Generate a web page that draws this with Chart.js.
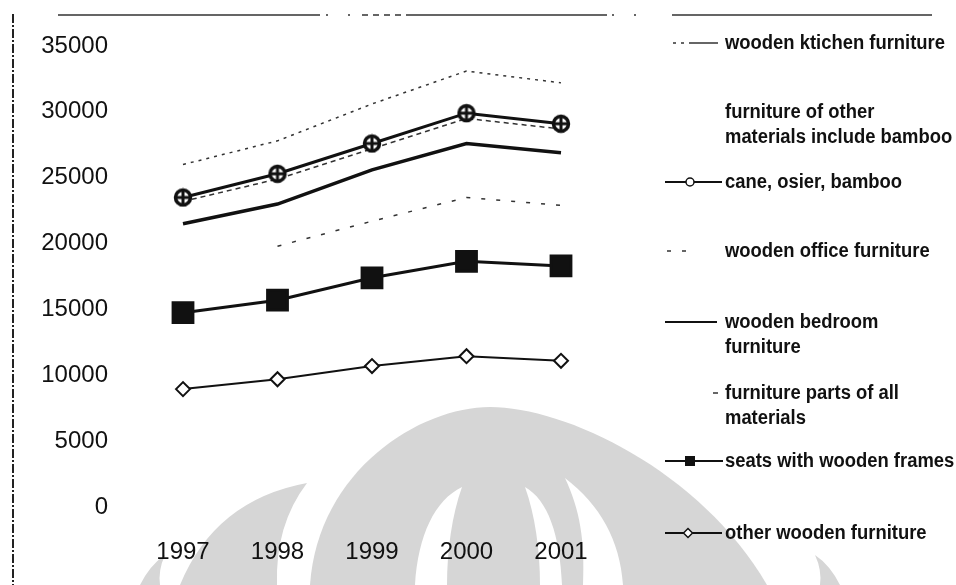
<!DOCTYPE html>
<html>
<head>
<meta charset="utf-8">
<script src="https://cdn.jsdelivr.net/npm/chart.js@4/dist/chart.umd.min.js"></script>
<style>
  html, body { margin: 0; padding: 0; background: #fff; }
  canvas { display: block; }
</style>
</head>
<body>
<canvas id="chart" width="956" height="585"></canvas>
<script>
// Categories and series values
const years = ['1997', '1998', '1999', '2000', '2001'];
const woodenKitchen   = [26000, 27800, 30600, 33100, 32200];
const otherMaterials  = [null, null, null, null, null];
const caneOsierBamboo = [23500, 25300, 27600, 29900, 29100];
const woodenOffice    = [null, 19800, 21700, 23500, 22900];
const woodenBedroom   = [21500, 23000, 25600, 27600, 26900];
const furnitureParts  = [23200, 24900, 27200, 29500, 28700];
const seatsWooden     = [14750, 15700, 17400, 18650, 18300];
const otherWooden     = [8950, 9700, 10700, 11450, 11100];

// Value axis
const yMin = 0, yMax = 35000, yStep = 5000;

// Series names, split into the lines shown in the key
const seriesNames = [
  ['wooden ktichen furniture'],
  ['furniture of other', 'materials include bamboo'],
  ['cane, osier, bamboo'],
  ['wooden office furniture'],
  ['wooden bedroom', 'furniture'],
  ['furniture parts of all', 'materials'],
  ['seats with wooden frames'],
  ['other wooden furniture']
];

const INK = '#111';

// circle-with-cross marker
const crossCircle = document.createElement('canvas');
crossCircle.width = 20; crossCircle.height = 20;
(function () {
  const g = crossCircle.getContext('2d');
  g.beginPath(); g.arc(10, 10, 7.5, 0, Math.PI * 2);
  g.fillStyle = '#fff'; g.fill();
  g.lineWidth = 3.5; g.strokeStyle = INK; g.stroke();
  g.beginPath();
  g.moveTo(10, 2); g.lineTo(10, 18);
  g.moveTo(2, 10); g.lineTo(18, 10);
  g.lineWidth = 3; g.stroke();
})();

// key layout: text rows and symbol extents
const keyLayout = [
  { y: 43,  x0: 673, x1: 718, solidFrom: 692 },
  { y: 112, x0: 0,   x1: 0 },
  { y: 182, x0: 665, x1: 722, px: 690 },
  { y: 251, x0: 667, x1: 697 },
  { y: 322, x0: 665, x1: 717 },
  { y: 393, x0: 713, x1: 718 },
  { y: 461, x0: 665, x1: 723, px: 690 },
  { y: 533, x0: 665, x1: 722, px: 688 }
];
const keyPointSize = [0, 0, 4, 0, 0, 0, 6, 4.5];
const KEY_FONT = "bold 20px 'Liberation Sans Narrow', 'Liberation Sans', sans-serif";
const KEY_TEXT_X = 725;
const KEY_WIDE_TEXT = 220; // drawn width of the first entry

const backdropPlugin = {
  id: 'backdrop',
  beforeDraw(chart) {
    const ctx = chart.ctx;
    ctx.save();
    ctx.fillStyle = '#fff';
    ctx.fillRect(0, 0, chart.width, chart.height);

    // faint emblem in the background
    ctx.fillStyle = '#d6d6d6';
    // dome
    ctx.beginPath();
    ctx.moveTo(310, 585);
    ctx.bezierCurveTo(318, 470, 420, 407, 490, 407);
    ctx.bezierCurveTo(565, 407, 700, 470, 767, 585);
    ctx.closePath();
    ctx.fill();
    // left leaf
    ctx.beginPath();
    ctx.moveTo(180, 585);
    ctx.quadraticCurveTo(215, 500, 307, 483);
    ctx.quadraticCurveTo(275, 525, 277, 585);
    ctx.closePath();
    ctx.fill();
    // outer slivers
    ctx.beginPath();
    ctx.moveTo(140, 585);
    ctx.quadraticCurveTo(150, 565, 165, 555);
    ctx.quadraticCurveTo(158, 570, 160, 585);
    ctx.closePath();
    ctx.fill();
    ctx.beginPath();
    ctx.moveTo(840, 585);
    ctx.quadraticCurveTo(830, 565, 815, 555);
    ctx.quadraticCurveTo(822, 570, 820, 585);
    ctx.closePath();
    ctx.fill();
    // white crescents
    ctx.fillStyle = '#fff';
    ctx.beginPath();
    ctx.moveTo(415, 585);
    ctx.bezierCurveTo(418, 535, 435, 500, 462, 487);
    ctx.bezierCurveTo(452, 515, 447, 550, 447, 585);
    ctx.closePath();
    ctx.fill();
    ctx.beginPath();
    ctx.moveTo(562, 585);
    ctx.bezierCurveTo(560, 535, 548, 500, 525, 487);
    ctx.bezierCurveTo(535, 515, 540, 550, 540, 585);
    ctx.closePath();
    ctx.fill();
    ctx.beginPath();
    ctx.moveTo(583, 585);
    ctx.bezierCurveTo(585, 540, 580, 510, 565, 478);
    ctx.bezierCurveTo(600, 505, 620, 540, 623, 585);
    ctx.closePath();
    ctx.fill();

    // page frame lines
    ctx.strokeStyle = '#333';
    ctx.lineWidth = 1.5;
    ctx.beginPath();
    [[58, 320], [410, 607], [672, 932]].forEach(([a, b]) => {
      ctx.moveTo(a, 15); ctx.lineTo(b, 15);
    });
    ctx.stroke();
    ctx.setLineDash([6, 5]);
    ctx.beginPath(); ctx.moveTo(362, 15); ctx.lineTo(410, 15); ctx.stroke();
    ctx.setLineDash([2, 20]);
    ctx.beginPath(); ctx.moveTo(326, 15); ctx.lineTo(355, 15); ctx.stroke();
    ctx.beginPath(); ctx.moveTo(612, 15); ctx.lineTo(645, 15); ctx.stroke();
    ctx.strokeStyle = '#222';
    ctx.lineWidth = 2;
    ctx.setLineDash([9, 2, 2, 2]);
    ctx.beginPath(); ctx.moveTo(13, 14); ctx.lineTo(13, 585); ctx.stroke();
    ctx.restore();
  }
};

const keyPlugin = {
  id: 'sideKey',
  afterDraw(chart) {
    const ctx = chart.ctx;
    ctx.save();
    ctx.font = KEY_FONT;
    const squeeze = Math.min(1, KEY_WIDE_TEXT / ctx.measureText(seriesNames[0][0]).width);
    chart.data.datasets.forEach((ds, i) => {
      const k = keyLayout[i];
      if (k.x1 > k.x0 && ds.borderWidth > 0) {
        ctx.strokeStyle = ds.borderColor;
        ctx.lineWidth = Math.min(ds.borderWidth, 2);
        const stop = k.solidFrom || k.x1;
        ctx.setLineDash(ds.borderDash || []);
        ctx.beginPath(); ctx.moveTo(k.x0, k.y); ctx.lineTo(stop, k.y); ctx.stroke();
        ctx.setLineDash([]);
        if (k.solidFrom) {
          ctx.beginPath(); ctx.moveTo(k.solidFrom, k.y); ctx.lineTo(k.x1, k.y); ctx.stroke();
        }
      }
      if (k.px && keyPointSize[i] > 0) {
        const style = ds.pointStyle instanceof HTMLCanvasElement ? 'circle' : ds.pointStyle;
        ctx.fillStyle = ds.pointBackgroundColor;
        ctx.strokeStyle = INK;
        ctx.lineWidth = 1.5;
        Chart.helpers.drawPoint(ctx, {
          pointStyle: style, radius: keyPointSize[i], rotation: 0, borderWidth: 1.5
        }, k.px, k.y);
      }
      ctx.fillStyle = INK;
      ctx.font = KEY_FONT;
      ctx.textBaseline = 'middle';
      ctx.textAlign = 'left';
      seriesNames[i].forEach((line, j) => {
        ctx.save();
        ctx.translate(KEY_TEXT_X, k.y + j * 25);
        ctx.scale(squeeze, 1);
        ctx.fillText(line, 0, 0);
        ctx.restore();
      });
    });
    ctx.restore();
  }
};

const tickFont = { family: "'Liberation Sans', Arial, sans-serif", size: 24 };

new Chart(document.getElementById('chart'), {
  type: 'line',
  data: {
    labels: years,
    datasets: [
      { label: seriesNames[0].join(' '), data: woodenKitchen, borderColor: '#333', borderWidth: 1.5,
        borderDash: [3, 5], pointRadius: 0 },
      { label: seriesNames[1].join(' '), data: otherMaterials, borderColor: 'rgba(0,0,0,0)', borderWidth: 0,
        pointRadius: 0 },
      { label: seriesNames[2].join(' '), data: caneOsierBamboo, borderColor: INK, borderWidth: 3,
        pointStyle: crossCircle, pointRadius: 9, pointBackgroundColor: '#fff' },
      { label: seriesNames[3].join(' '), data: woodenOffice, borderColor: '#333', borderWidth: 1.5,
        borderDash: [4, 11], pointRadius: 0 },
      { label: seriesNames[4].join(' '), data: woodenBedroom, borderColor: INK, borderWidth: 3.5,
        pointRadius: 0 },
      { label: seriesNames[5].join(' '), data: furnitureParts, borderColor: '#333', borderWidth: 1.5,
        borderDash: [5, 4], pointRadius: 0 },
      { label: seriesNames[6].join(' '), data: seatsWooden, borderColor: INK, borderWidth: 3,
        pointStyle: 'rect', pointRadius: 14, pointBackgroundColor: INK, pointBorderColor: INK },
      { label: seriesNames[7].join(' '), data: otherWooden, borderColor: INK, borderWidth: 2,
        pointStyle: 'rectRot', pointRadius: 7, pointBackgroundColor: '#fff', pointBorderColor: INK,
        pointBorderWidth: 2 }
    ].map(d => Object.assign({ tension: 0, clip: false, spanGaps: false, fill: false }, d))
  },
  options: {
    responsive: false,
    animation: false,
    devicePixelRatio: 1,
    layout: { padding: { left: 0, right: 395, top: 46, bottom: 0 } },
    plugins: { legend: { display: false }, tooltip: { enabled: false } },
    scales: {
      x: {
        type: 'category',
        offset: false,
        grid: { display: false, drawTicks: false },
        border: { display: false },
        ticks: { font: tickFont, color: INK, padding: 31, maxRotation: 0, autoSkip: false },
        afterFit(s) { s.height = 78; }
      },
      y: {
        min: yMin, max: yMax,
        // hidden tick marks keep the labels 75px left of the plot
        grid: { display: false, drawTicks: true, tickLength: 75 },
        border: { display: false },
        ticks: { stepSize: yStep, font: tickFont, color: INK, padding: 0,
                 callback: v => String(v) },
        afterFit(s) { s.width = 183; }
      }
    }
  },
  plugins: [backdropPlugin, keyPlugin]
});
</script>
</body>
</html>
